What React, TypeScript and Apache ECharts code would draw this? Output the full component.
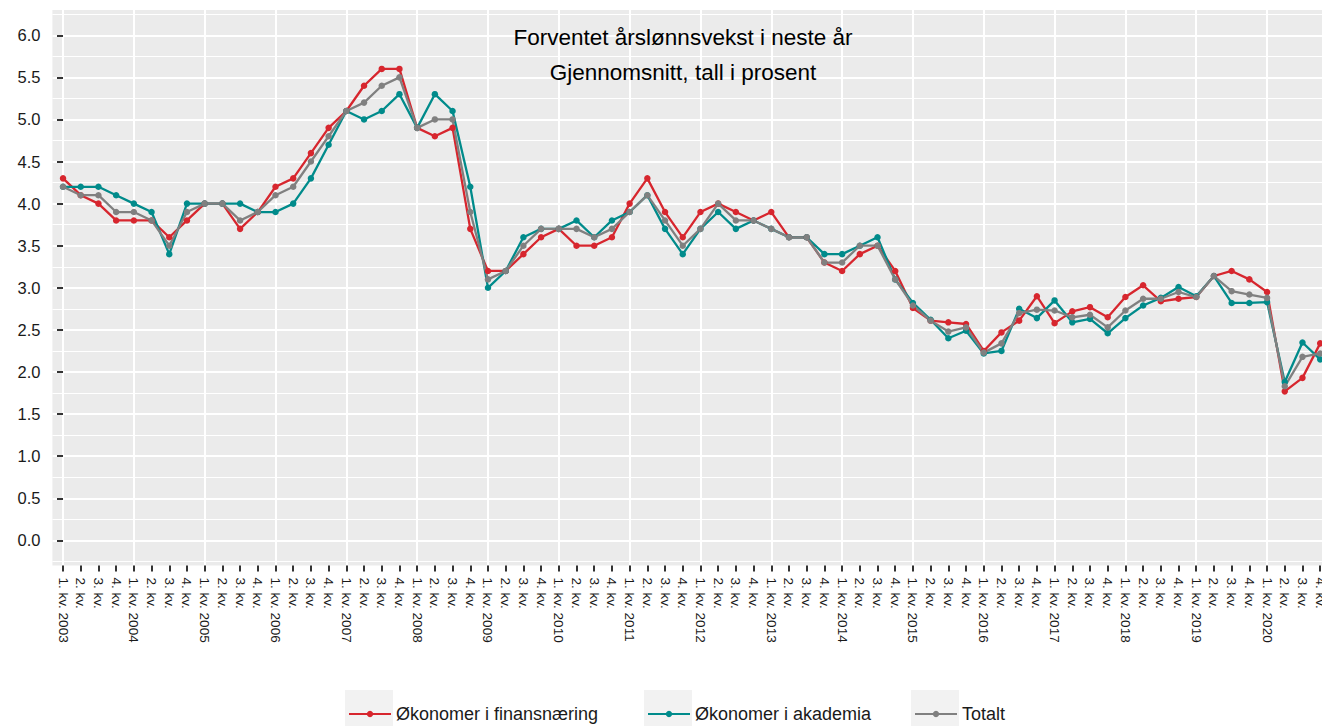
import React, { useEffect, useRef } from 'react';
import * as echarts from 'echarts';

const years = [2003, 2004, 2005, 2006, 2007, 2008, 2009, 2010, 2011, 2012, 2013, 2014, 2015, 2016, 2017, 2018, 2019, 2020];
const quarterNames = ['1. kv.', '2. kv.', '3. kv.', '4. kv.'];
const yTicks = [0, 0.5, 1, 1.5, 2, 2.5, 3, 3.5, 4, 4.5, 5, 5.5, 6];
const seriesNames = ['Økonomer i finansnæring', 'Økonomer i akademia', 'Totalt'];
const seriesColors = ['#d7262e', '#008b8b', '#808080'];

const finans = [
  4.3, 4.1, 4.0, 3.8, 3.8, 3.8, 3.6, 3.8, 4.0, 4.0,
  3.7, 3.9, 4.2, 4.3, 4.6, 4.9, 5.1, 5.4, 5.6, 5.6,
  4.9, 4.8, 4.9, 3.7, 3.2, 3.2, 3.4, 3.6, 3.7, 3.5,
  3.5, 3.6, 4.0, 4.3, 3.9, 3.6, 3.9, 4.0, 3.9, 3.8,
  3.9, 3.6, 3.6, 3.3, 3.2, 3.4, 3.5, 3.2, 2.76, 2.61,
  2.59, 2.57, 2.25, 2.47, 2.61, 2.90, 2.58, 2.72, 2.77, 2.65,
  2.89, 3.03, 2.84, 2.87, 2.89, 3.14, 3.20, 3.10, 2.95, 1.77,
  1.93, 2.34,
];
const akademia = [
  4.2, 4.2, 4.2, 4.1, 4.0, 3.9, 3.4, 4.0, 4.0, 4.0,
  4.0, 3.9, 3.9, 4.0, 4.3, 4.7, 5.1, 5.0, 5.1, 5.3,
  4.9, 5.3, 5.1, 4.2, 3.0, 3.2, 3.6, 3.7, 3.7, 3.8,
  3.6, 3.8, 3.9, 4.1, 3.7, 3.4, 3.7, 3.9, 3.7, 3.8,
  3.7, 3.6, 3.6, 3.4, 3.4, 3.5, 3.6, 3.1, 2.82, 2.62,
  2.40, 2.49, 2.22, 2.25, 2.75, 2.64, 2.85, 2.59, 2.63, 2.46,
  2.64, 2.79, 2.88, 3.01, 2.90, 3.14, 2.82, 2.82, 2.83, 1.88,
  2.35, 2.15,
];
const totalt = [
  4.2, 4.1, 4.1, 3.9, 3.9, 3.8, 3.5, 3.9, 4.0, 4.0,
  3.8, 3.9, 4.1, 4.2, 4.5, 4.8, 5.1, 5.2, 5.4, 5.5,
  4.9, 5.0, 5.0, 3.9, 3.1, 3.2, 3.5, 3.7, 3.7, 3.7,
  3.6, 3.7, 3.9, 4.1, 3.8, 3.5, 3.7, 4.0, 3.8, 3.8,
  3.7, 3.6, 3.6, 3.3, 3.3, 3.5, 3.5, 3.1, 2.79, 2.61,
  2.48, 2.53, 2.23, 2.34, 2.70, 2.74, 2.73, 2.65, 2.68, 2.53,
  2.73, 2.87, 2.87, 2.95, 2.89, 3.14, 2.96, 2.92, 2.88, 1.83,
  2.18, 2.22,
];
const seriesValues = [finans, akademia, totalt];

const xLabels: string[] = years.flatMap((y) => quarterNames.map((q, qi) => (qi === 0 ? `${q} ${y}` : q)));
const xIndex = xLabels.map((_, i) => i);
const yearStarts = xIndex.filter((i) => i % 4 === 0);

const FONT = '"Liberation Sans", Arial, Helvetica, sans-serif';
const legendLefts = [348, 647, 914];
const keyBoxLefts = [345, 644, 911];

export default function App() {
  const ref = useRef<HTMLDivElement>(null);
  useEffect(() => {
    if (!ref.current) return;
    const chart = echarts.init(ref.current, undefined, { renderer: 'svg' });
    const xCommon = { type: 'value', min: -0.6, max: 71.6, minInterval: 1, maxInterval: 1, position: 'bottom', gridIndex: 0 };
    const option: any = {
      animation: false,
      backgroundColor: '#ffffff',
      title: {
        text: 'Forventet årslønnsvekst i neste år\nGjennomsnitt, tall i prosent',
        left: 683,
        top: 20,
        padding: 0,
        textAlign: 'center',
        textStyle: { fontFamily: FONT, fontSize: 22.5, fontWeight: 'normal', color: '#000', lineHeight: 35 },
      },
      grid: {
        left: 52.4, top: 10, width: 1278.4, height: 555.6,
        show: true, backgroundColor: '#ebebeb', borderWidth: 0,
        containLabel: false, outerBoundsMode: 'none',
      },
      graphic: keyBoxLefts.map((x) => ({
        type: 'rect', left: x, top: 690, z: 1,
        shape: { width: 48, height: 40 },
        style: { fill: '#f2f2f2' },
      })),
      legend: seriesNames.map((name, k) => ({
        data: [name], left: legendLefts[k], top: 703, padding: 0,
        itemWidth: 42, itemHeight: 8, itemGap: 0, selectedMode: false,
        textStyle: { fontFamily: FONT, fontSize: 18, color: '#1a1a1a', lineHeight: 22 },
      })),
      xAxis: [
        {
          ...xCommon,
          axisLine: { show: false },
          axisTick: { show: false, customValues: yearStarts },
          splitLine: { show: true, lineStyle: { color: '#ffffff', width: 2 } },
          axisLabel: {
            customValues: xIndex,
            formatter: (v: number) => xLabels[Math.round(v)] ?? '',
            rotate: -90, margin: 12, fontSize: 13.5, color: '#1a1a1a', fontFamily: FONT,
          },
        },
        {
          ...xCommon,
          axisLine: { show: false },
          axisTick: { show: true, customValues: xIndex, length: 6, lineStyle: { color: '#333333', width: 2 } },
          axisLabel: { show: false },
          splitLine: { show: false },
        },
      ],
      yAxis: {
        type: 'value', min: -0.3, max: 6.3, minInterval: 0.5, maxInterval: 0.5,
        axisLine: { show: false },
        axisTick: { show: true, customValues: yTicks, length: 6, lineStyle: { color: '#333333', width: 2 } },
        axisLabel: {
          customValues: yTicks,
          formatter: (v: number) => v.toFixed(1),
          margin: 12, fontSize: 16.5, color: '#1a1a1a', fontFamily: FONT,
        },
        splitLine: { show: true, lineStyle: { color: '#ffffff', width: 2 } },
        minorTick: { show: false, splitNumber: 2 },
        minorSplitLine: { show: true, lineStyle: { color: '#ffffff', width: 1 } },
      },
      series: seriesNames.map((name, k) => ({
        name, type: 'line', xAxisIndex: 0, yAxisIndex: 0,
        data: seriesValues[k].map((v, i) => [i, v]),
        symbol: 'circle', symbolSize: 6.5, showSymbol: true,
        lineStyle: { width: 2.3, color: seriesColors[k] },
        itemStyle: { color: seriesColors[k] },
        emphasis: { disabled: true },
      })),
    };
    chart.setOption(option);
    return () => chart.dispose();
  }, []);
  return <div ref={ref} style={{ position: 'fixed', left: 0, top: 0, width: 1322, height: 726 }} />;
}
